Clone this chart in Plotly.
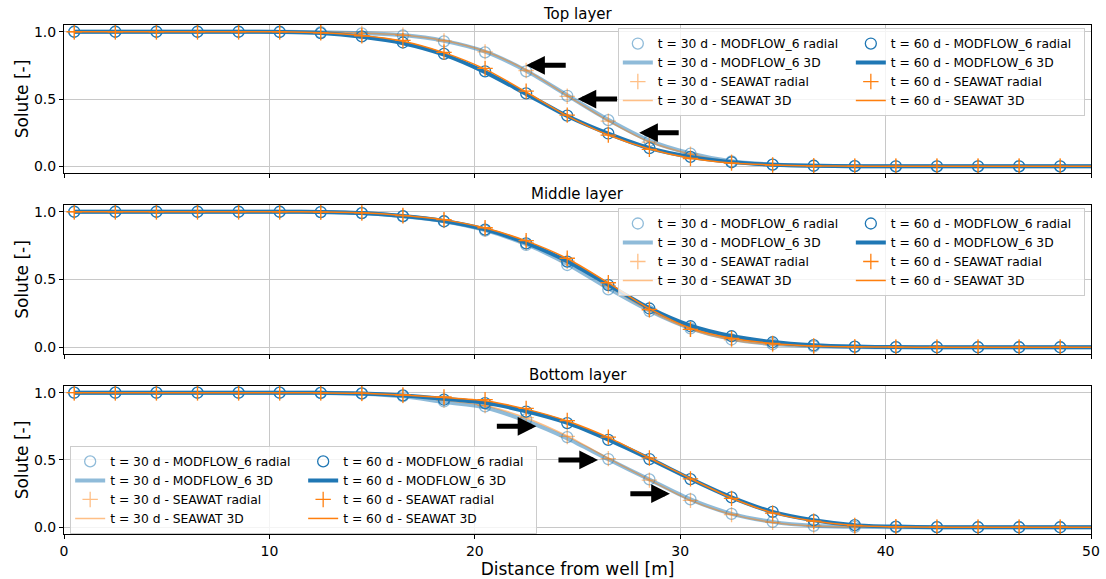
import plotly.graph_objects as go
from plotly.subplots import make_subplots

# Distances (m) of the radial-model cell centres and of the 3D profile
x_mark = [0.5, 2.5, 4.5, 6.5, 8.5, 10.5, 12.5, 14.5, 16.5, 18.5, 20.5, 22.5, 24.5,
          26.5, 28.5, 30.5, 32.5, 34.5, 36.5, 38.5, 40.5, 42.5, 44.5, 46.5, 48.5]
x_line = [0.5, 2.5, 4.5, 6.5, 8.5, 10.5, 12.5, 14.5, 16.5, 18.5, 20.5, 22.5, 24.5,
          26.5, 28.5, 30.5, 32.5, 34.5, 36.5, 38.5, 40.5, 42.5, 44.5, 46.5, 48.5, 50.0]

# Top layer
top_mf6_rad_30 = [1.0, 1.0, 1.0, 1.0, 1.0, 1.0, 0.996, 0.988, 0.972, 0.928, 0.847, 0.706, 0.524, 0.343, 0.188, 0.094, 0.036, 0.013, 0.004, 0.001, 0.0, 0.0, 0.0, 0.0, 0.0]
top_mf6_3d_30 = [1.0, 1.0, 1.0, 1.0, 1.0, 1.0, 0.997, 0.99, 0.975, 0.932, 0.852, 0.71, 0.528, 0.345, 0.19, 0.095, 0.037, 0.013, 0.004, 0.001, 0.0, 0.0, 0.0, 0.0, 0.0, 0.0]
top_swt_rad_30 = [1.0, 1.0, 1.0, 1.0, 1.0, 1.0, 0.996, 0.988, 0.974, 0.932, 0.85, 0.712, 0.52, 0.336, 0.18, 0.09, 0.033, 0.012, 0.004, 0.001, 0.0, 0.0, 0.0, 0.0, 0.0]
top_swt_3d_30 = [1.0, 1.0, 1.0, 1.0, 1.0, 1.0, 0.997, 0.99, 0.976, 0.935, 0.855, 0.715, 0.525, 0.338, 0.182, 0.09, 0.034, 0.012, 0.004, 0.001, 0.0, 0.0, 0.0, 0.0, 0.0, 0.0]
top_mf6_rad_60 = [1.0, 1.0, 1.0, 1.0, 1.0, 0.998, 0.99, 0.965, 0.92, 0.835, 0.706, 0.542, 0.376, 0.244, 0.135, 0.07, 0.03, 0.012, 0.004, 0.001, 0.0, 0.0, 0.0, 0.0, 0.0]
top_mf6_3d_60 = [1.0, 1.0, 1.0, 1.0, 1.0, 0.998, 0.99, 0.962, 0.915, 0.83, 0.7, 0.538, 0.374, 0.243, 0.135, 0.07, 0.031, 0.012, 0.004, 0.001, 0.0, 0.0, 0.0, 0.0, 0.0, 0.0]
top_swt_rad_60 = [1.0, 1.0, 1.0, 1.0, 1.0, 0.999, 0.992, 0.97, 0.935, 0.847, 0.728, 0.558, 0.38, 0.232, 0.126, 0.058, 0.024, 0.009, 0.003, 0.001, 0.0, 0.0, 0.0, 0.0, 0.0]
top_swt_3d_60 = [1.0, 1.0, 1.0, 1.0, 1.0, 0.999, 0.992, 0.972, 0.93, 0.845, 0.722, 0.552, 0.375, 0.232, 0.128, 0.06, 0.025, 0.01, 0.003, 0.001, 0.0, 0.0, 0.0, 0.0, 0.0, 0.0]

# Middle layer
mid_mf6_rad_30 = [1.0, 1.0, 1.0, 1.0, 1.0, 1.0, 0.998, 0.99, 0.966, 0.928, 0.86, 0.755, 0.607, 0.427, 0.267, 0.139, 0.057, 0.022, 0.007, 0.002, 0.0, 0.0, 0.0, 0.0, 0.0]
mid_mf6_3d_30 = [1.0, 1.0, 1.0, 1.0, 1.0, 1.0, 0.998, 0.99, 0.967, 0.93, 0.864, 0.76, 0.615, 0.435, 0.27, 0.14, 0.06, 0.023, 0.008, 0.002, 0.0, 0.0, 0.0, 0.0, 0.0, 0.0]
mid_swt_rad_30 = [1.0, 1.0, 1.0, 1.0, 1.0, 1.0, 0.998, 0.99, 0.968, 0.935, 0.872, 0.772, 0.635, 0.455, 0.272, 0.132, 0.054, 0.02, 0.006, 0.002, 0.0, 0.0, 0.0, 0.0, 0.0]
mid_swt_3d_30 = [1.0, 1.0, 1.0, 1.0, 1.0, 1.0, 0.998, 0.99, 0.968, 0.934, 0.87, 0.77, 0.632, 0.452, 0.27, 0.132, 0.054, 0.02, 0.006, 0.002, 0.0, 0.0, 0.0, 0.0, 0.0, 0.0]
mid_mf6_rad_60 = [1.0, 1.0, 1.0, 1.0, 1.0, 1.0, 0.998, 0.99, 0.968, 0.93, 0.868, 0.767, 0.632, 0.459, 0.286, 0.155, 0.081, 0.037, 0.015, 0.005, 0.001, 0.0, 0.0, 0.0, 0.0]
mid_mf6_3d_60 = [1.0, 1.0, 1.0, 1.0, 1.0, 1.0, 0.998, 0.99, 0.968, 0.932, 0.87, 0.77, 0.635, 0.462, 0.29, 0.16, 0.083, 0.038, 0.015, 0.005, 0.001, 0.0, 0.0, 0.0, 0.0, 0.0]
mid_swt_rad_60 = [1.0, 1.0, 1.0, 1.0, 1.0, 1.0, 0.998, 0.992, 0.972, 0.942, 0.882, 0.787, 0.657, 0.476, 0.28, 0.132, 0.065, 0.028, 0.01, 0.003, 0.001, 0.0, 0.0, 0.0, 0.0]
mid_swt_3d_60 = [1.0, 1.0, 1.0, 1.0, 1.0, 1.0, 0.998, 0.992, 0.972, 0.94, 0.88, 0.785, 0.655, 0.475, 0.285, 0.14, 0.066, 0.028, 0.01, 0.003, 0.001, 0.0, 0.0, 0.0, 0.0, 0.0]

# Bottom layer
bot_mf6_rad_30 = [1.0, 1.0, 1.0, 1.0, 1.0, 1.0, 0.999, 0.993, 0.975, 0.935, 0.898, 0.803, 0.67, 0.507, 0.356, 0.207, 0.1, 0.04, 0.011, 0.003, 0.001, 0.0, 0.0, 0.0, 0.0]
bot_mf6_3d_30 = [1.0, 1.0, 1.0, 1.0, 1.0, 1.0, 0.999, 0.993, 0.973, 0.93, 0.89, 0.79, 0.66, 0.505, 0.355, 0.207, 0.1, 0.04, 0.011, 0.003, 0.001, 0.0, 0.0, 0.0, 0.0, 0.0]
bot_swt_rad_30 = [1.0, 1.0, 1.0, 1.0, 1.0, 1.0, 0.999, 0.994, 0.978, 0.945, 0.905, 0.815, 0.675, 0.51, 0.35, 0.2, 0.095, 0.036, 0.01, 0.003, 0.001, 0.0, 0.0, 0.0, 0.0]
bot_swt_3d_30 = [1.0, 1.0, 1.0, 1.0, 1.0, 1.0, 0.999, 0.994, 0.978, 0.945, 0.905, 0.812, 0.678, 0.512, 0.352, 0.2, 0.096, 0.036, 0.01, 0.003, 0.001, 0.0, 0.0, 0.0, 0.0, 0.0]
bot_mf6_rad_60 = [1.0, 1.0, 1.0, 1.0, 1.0, 1.0, 0.999, 0.995, 0.98, 0.948, 0.923, 0.86, 0.774, 0.649, 0.507, 0.358, 0.222, 0.114, 0.052, 0.016, 0.005, 0.001, 0.0, 0.0, 0.0]
bot_mf6_3d_60 = [1.0, 1.0, 1.0, 1.0, 1.0, 1.0, 0.999, 0.995, 0.98, 0.955, 0.925, 0.862, 0.776, 0.652, 0.51, 0.36, 0.222, 0.114, 0.052, 0.016, 0.005, 0.001, 0.0, 0.0, 0.0, 0.0]
bot_swt_rad_60 = [1.0, 1.0, 1.0, 1.0, 1.0, 1.0, 0.999, 0.996, 0.983, 0.968, 0.948, 0.883, 0.793, 0.67, 0.515, 0.36, 0.215, 0.105, 0.045, 0.013, 0.004, 0.001, 0.0, 0.0, 0.0]
bot_swt_3d_60 = [1.0, 1.0, 1.0, 1.0, 1.0, 1.0, 0.999, 0.996, 0.983, 0.965, 0.94, 0.878, 0.79, 0.668, 0.515, 0.362, 0.218, 0.107, 0.046, 0.014, 0.004, 0.001, 0.0, 0.0, 0.0, 0.0]

layer_titles = ["Top layer", "Middle layer", "Bottom layer"]

# Arrows marking the front displacement: (tail x, tail y, head x, head y)
top_arrows = [(24.5, 0.75, 22.5, 0.75), (27.0, 0.5, 25.0, 0.5), (30.0, 0.25, 28.0, 0.25)]
bot_arrows = [(21.0, 0.75, 23.0, 0.75), (24.0, 0.5, 26.0, 0.5), (27.5, 0.25, 29.5, 0.25)]

BLUE = "#1f77b4"
ORANGE = "#ff7f0e"
BLUE_L = "rgba(31,119,180,0.5)"
ORANGE_L = "rgba(255,127,14,0.5)"
FONT = "DejaVu Sans"

layers = [
    (top_mf6_rad_30, top_mf6_3d_30, top_swt_rad_30, top_swt_3d_30,
     top_mf6_rad_60, top_mf6_3d_60, top_swt_rad_60, top_swt_3d_60),
    (mid_mf6_rad_30, mid_mf6_3d_30, mid_swt_rad_30, mid_swt_3d_30,
     mid_mf6_rad_60, mid_mf6_3d_60, mid_swt_rad_60, mid_swt_3d_60),
    (bot_mf6_rad_30, bot_mf6_3d_30, bot_swt_rad_30, bot_swt_3d_30,
     bot_mf6_rad_60, bot_mf6_3d_60, bot_swt_rad_60, bot_swt_3d_60),
]

fig = make_subplots(rows=3, cols=1, shared_xaxes=True, vertical_spacing=0.06,
                    subplot_titles=layer_titles)

legend_names = ["legend", "legend2", "legend3"]

for i, series in enumerate(layers):
    row = i + 1
    leg = legend_names[i]
    mf_r30, mf_3d30, sw_r30, sw_3d30, mf_r60, mf_3d60, sw_r60, sw_3d60 = series
    for t, (mf_r, mf_3d, sw_r, sw_3d, c_b, c_o) in {
        30: (mf_r30, mf_3d30, sw_r30, sw_3d30, BLUE_L, ORANGE_L),
        60: (mf_r60, mf_3d60, sw_r60, sw_3d60, BLUE, ORANGE),
    }.items():
        grp = f"{leg}_{t}"
        fig.add_trace(go.Scatter(
            x=x_mark, y=mf_r, mode="markers", name=f"t = {t} d - MODFLOW_6 radial",
            marker=dict(symbol="circle-open", size=11, color=c_b, line=dict(color=c_b, width=1.3)),
            legend=leg, legendgroup=grp), row=row, col=1)
        fig.add_trace(go.Scatter(
            x=x_line, y=mf_3d, mode="lines", name=f"t = {t} d - MODFLOW_6 3D",
            line=dict(color=c_b, width=4, shape="spline", smoothing=0.8),
            legend=leg, legendgroup=grp), row=row, col=1)
        fig.add_trace(go.Scatter(
            x=x_mark, y=sw_r, mode="markers", name=f"t = {t} d - SEAWAT radial",
            marker=dict(symbol="cross-thin-open", size=11, color=c_o, line=dict(color=c_o, width=1.3)),
            legend=leg, legendgroup=grp), row=row, col=1)
        fig.add_trace(go.Scatter(
            x=x_line, y=sw_3d, mode="lines", name=f"t = {t} d - SEAWAT 3D",
            line=dict(color=c_o, width=1.5, shape="spline", smoothing=0.8),
            legend=leg, legendgroup=grp), row=row, col=1)

# Arrow annotations
for row, arrows in ((1, top_arrows), (3, bot_arrows)):
    xr = "x" if row == 1 else f"x{row}"
    yr = "y" if row == 1 else f"y{row}"
    for tx, ty, hx, hy in arrows:
        fig.add_annotation(x=hx, y=hy, ax=tx, ay=ty, xref=xr, yref=yr, axref=xr, ayref=yr,
                           text="", showarrow=True, arrowhead=2, arrowsize=0.75,
                           arrowwidth=5, arrowcolor="black", standoff=0)

# Panel geometry
domains = [[0.7092, 1.0], [0.3536, 0.6464], [0.0, 0.2908]]
axis_common = dict(showline=True, mirror=True, linecolor="black", linewidth=1,
                   ticks="outside", ticklen=4, tickcolor="black", tickwidth=1,
                   showgrid=True, gridcolor="#c8c8c8", gridwidth=1, zeroline=False,
                   automargin=False,
                   tickfont=dict(family=FONT, size=14, color="black"))
for i in range(3):
    ysuf = "" if i == 0 else str(i + 1)
    fig.layout["yaxis" + ysuf].update(
        domain=domains[i], range=[-0.05, 1.05], tickvals=[0, 0.5, 1.0],
        ticktext=["0.0", "0.5", "1.0"],
        title=dict(text="Solute [-]", font=dict(family=FONT, size=17, color="black"), standoff=0),
        **axis_common)
    fig.layout["xaxis" + ysuf].update(
        range=[0, 50], tickvals=[0, 10, 20, 30, 40, 50],
        showticklabels=(i == 2), **axis_common)
fig.layout.xaxis3.title = dict(text="Distance from well [m]",
                               font=dict(family=FONT, size=17, color="black"), standoff=2)

# Subplot titles sit just above their panels
for ann, dom in zip(fig.layout.annotations[:3], domains):
    ann.y = dom[1]
    ann.yshift = 0
    ann.font = dict(family=FONT, size=15, color="black")

leg_style = dict(orientation="h", bgcolor="rgba(255,255,255,0.8)", bordercolor="#cccccc",
                 borderwidth=1, font=dict(family=FONT, size=12.3, color="black"),
                 entrywidth=188, entrywidthmode="pixels", itemwidth=30)
fig.update_layout(
    width=1106, height=579,
    margin=dict(l=64, r=15, t=25, b=45),
    plot_bgcolor="white", paper_bgcolor="white",
    font=dict(family=FONT, color="black"),
    legend=dict(x=0.994, y=0.994, xanchor="right", yanchor="top", **leg_style),
    legend2=dict(x=0.994, y=0.6405, xanchor="right", yanchor="top", **leg_style),
    legend3=dict(x=0.006, y=0.173, xanchor="left", yanchor="top", **leg_style),
)

fig.write_html("out.html")
